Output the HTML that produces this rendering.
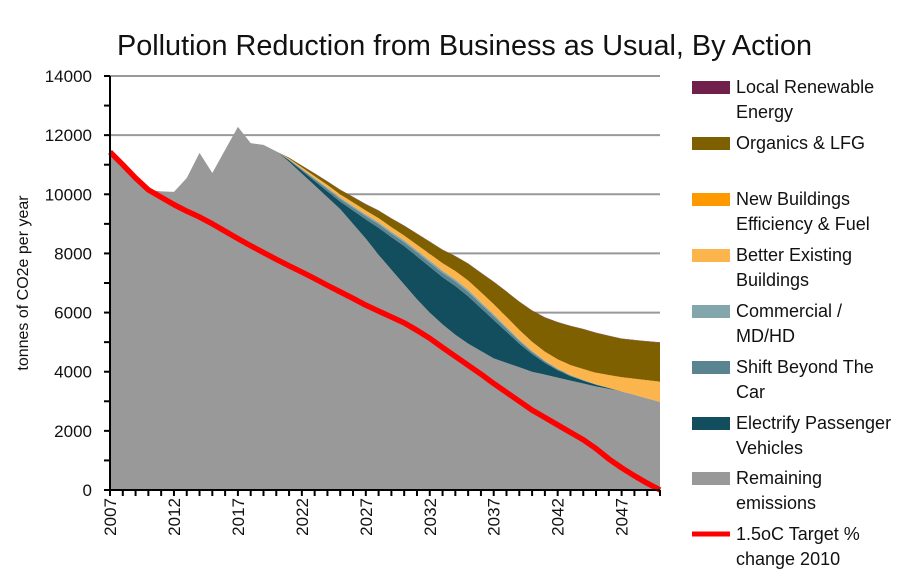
<!DOCTYPE html>
<html><head><meta charset="utf-8"><style>
body{margin:0;background:#fff;}
svg text{font-family:"Liberation Sans Narrow","Liberation Sans",sans-serif;}
</style></head><body>
<svg width="902" height="575" id="c">
<text x="117" y="55" textLength="695" lengthAdjust="spacingAndGlyphs" font-size="29" fill="#111">Pollution Reduction from Business as Usual, By Action</text>
<text transform="translate(28,283) rotate(-90)" text-anchor="middle" font-size="16" fill="#111">tonnes of CO2e per year</text>
<g id="grid"></g><g id="areas"></g><g id="line"></g><g id="axes"></g><g id="legend"></g>
</svg>
<script>
const years=[];for(let y=2007;y<=2050;y++)years.push(y);
const pre=new Array(13).fill(0);
const remaining=[11430,11050,10600,10150,10100,10080,10550,11400,10720,11500,12280,11730,11670,11450,11100,10700,10300,9900,9500,9000,8500,7950,7450,6950,6450,6000,5600,5250,4950,4700,4450,4300,4150,4000,3900,3800,3700,3600,3500,3420,3330,3220,3100,2980];
const electrify=pre.concat([0,50,100,150,200,250,450,650,920,1100,1300,1450,1550,1600,1650,1600,1450,1300,1050,800,600,400,250,150,100,60,30,0,0,0,0]);
const shiftCar=pre.concat([0,20,40,60,80,90,100,110,120,125,130,135,140,145,150,150,140,130,110,90,70,50,35,25,15,10,5,0,0,0,0]);
const commercial=pre.concat([0,10,20,30,40,45,50,55,60,60,60,65,70,70,70,70,65,60,50,40,30,25,20,15,10,5,0,0,0,0,0]);
const betterBldg=pre.concat([0,20,40,60,80,100,110,120,130,140,150,180,210,240,270,300,320,330,330,320,300,290,300,320,350,380,420,470,530,600,670]);
const newBldg=pre.concat([0,5,8,10,12,14,15,15,15,15,15,15,15,15,15,15,15,15,15,15,15,15,15,15,15,15,15,15,15,15,15]);
const organics=pre.concat([0,30,60,90,120,150,180,210,250,290,330,370,410,450,500,570,650,750,850,950,1050,1150,1250,1320,1350,1340,1320,1300,1300,1310,1320]);
const localRen=pre.concat([0,5,5,10,10,10,10,10,10,10,10,10,10,10,10,10,10,10,10,10,10,10,10,10,10,10,10,10,10,10,10]);
const target=[11430,11000,10550,10150,9900,9650,9430,9230,9000,8750,8500,8260,8030,7800,7580,7370,7150,6920,6700,6480,6250,6050,5850,5650,5400,5130,4820,4520,4220,3920,3600,3300,3000,2700,2450,2200,1950,1700,1400,1050,750,480,230,0];
const yTicks=[0,2000,4000,6000,8000,10000,12000,14000];
const xLabels=[2007,2012,2017,2022,2027,2032,2037,2042,2047];

const X0=110,X1=660,Y0=490,Y1=76;
const sx=y=>X0+(y-2007)*(X1-X0)/43;
const sy=v=>Y0-v*(Y0-Y1)/14000;
const NS='http://www.w3.org/2000/svg';
function mk(t,a,p){const e=document.createElementNS(NS,t);for(const k in a)e.setAttribute(k,a[k]);p.appendChild(e);return e;}
const grid=document.getElementById('grid'),areas=document.getElementById('areas'),line=document.getElementById('line'),axes=document.getElementById('axes'),leg=document.getElementById('legend');
yTicks.forEach(v=>{if(v>0){const g=mk('line',{x1:X0,x2:X1,y1:sy(v),y2:sy(v),stroke:'#999','stroke-width':2},grid);

}
const t=mk('text',{x:92,y:sy(v)+6,'text-anchor':'end','font-size':17,fill:'#111'},axes);t.textContent=v;

});
const series=[['remaining-emissions-area',remaining,'#999999'],['electrify-area',electrify,'#134e5e'],['shift-car-area',shiftCar,'#5a8590'],['commercial-area',commercial,'#83a6ad'],['better-buildings-area',betterBldg,'#fbb54c'],['new-buildings-area',newBldg,'#ff9900'],['organics-area',organics,'#7f6000'],['local-renewable-area',localRen,'#70204a']];
let base=years.map(()=>0);
series.forEach(([n,arr,col])=>{const top=base.map((b,i)=>b+arr[i]);
let d='M'+years.map((y,i)=>sx(y)+','+sy(top[i])).join('L');
for(let i=years.length-1;i>=0;i--)d+='L'+sx(years[i])+','+sy(base[i]);
const p=mk('path',{d:d+'Z',fill:col},areas);


base=top;});
const tl=mk('polyline',{points:years.map((y,i)=>sx(y)+','+sy(target[i])).join(' '),fill:'none',stroke:'#ff0000','stroke-width':5.5,'stroke-linejoin':'round'},line);


mk('line',{x1:X0,x2:X0,y1:Y1,y2:Y0,stroke:'#000','stroke-width':2},axes);
mk('line',{x1:X0,x2:X1,y1:Y0,y2:Y0,stroke:'#000','stroke-width':2},axes);
for(let v=0;v<=14000;v+=1000)mk('line',{x1:X0-6,x2:X0,y1:sy(v),y2:sy(v),stroke:'#000','stroke-width':2},axes);
years.forEach(y=>mk('line',{x1:sx(y),x2:sx(y),y1:Y0,y2:Y0+6,stroke:'#000','stroke-width':2},axes));
xLabels.forEach(y=>{const t=mk('text',{transform:`translate(${sx(y)+6},${Y0+8}) rotate(-90)`,'text-anchor':'end','font-size':17,fill:'#111'},axes);t.textContent=y;

});
const legItems=[['Local Renewable','Energy','#70204a',87],['Organics & LFG','','#7f6000',143],['New Buildings','Efficiency & Fuel','#ff9900',199],['Better Existing','Buildings','#fbb54c',255],['Commercial /','MD/HD','#83a6ad',311],['Shift Beyond The','Car','#5a8590',367],['Electrify Passenger','Vehicles','#134e5e',423],['Remaining','emissions','#999999',478]];
legItems.forEach(([a,b,c,y])=>{const g=mk('g',{},leg);


mk('rect',{x:692,y:y-6,width:38,height:13,fill:c},g);
mk('text',{x:736,y:y+6,'font-size':18,fill:'#111'},g).textContent=a;
if(b)mk('text',{x:736,y:y+31,'font-size':18,fill:'#111'},g).textContent=b;});
const g=mk('g',{},leg);


mk('line',{x1:692,x2:730,y1:534,y2:534,stroke:'#ff0000','stroke-width':5},g);
mk('text',{x:736,y:540,'font-size':18,fill:'#111'},g).textContent='1.5oC Target %';
mk('text',{x:736,y:565,'font-size':18,fill:'#111'},g).textContent='change 2010';
</script>
</body></html>
